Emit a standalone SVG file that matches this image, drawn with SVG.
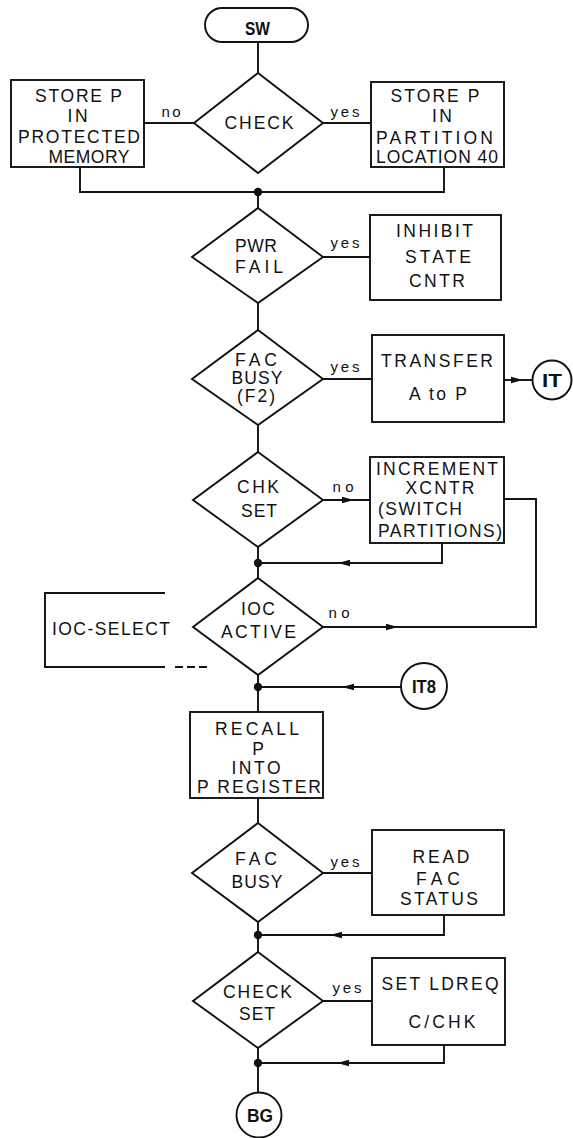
<svg xmlns="http://www.w3.org/2000/svg" width="573" height="1138" viewBox="0 0 573 1138">
<style>
.s{fill:none;stroke:#111;stroke-width:1.9}
.w{fill:#fff;stroke:#111;stroke-width:1.9}
.d{fill:#111}
text{font-family:"Liberation Sans",Arial,sans-serif;fill:#111;text-anchor:middle}
.t{font-size:17.5px}
.l{font-size:15px}
.b{font-size:19px;font-weight:bold}
</style>
<defs>
<marker id="ah" markerWidth="12" markerHeight="8" refX="6" refY="4" orient="auto" markerUnits="userSpaceOnUse">
<path d="M0,0.8 L12,4 L0,7.2 Z" fill="#111"/>
</marker>
</defs>
<rect width="573" height="1138" fill="#fff"/>

<g id="connectors">
<path class="s" d="M258,42 V73"/>
<path class="s" d="M144,123 H194"/>
<path class="s" d="M323,123 H371"/>
<path class="s" d="M80,167 V192 H444 V167"/>
<path class="s" d="M258,192 V208"/>
<path class="s" d="M323,257 H370"/>
<path class="s" d="M258,303 V330"/>
<path class="s" d="M323,379 H372"/>
<path class="s" d="M504,380 L517,380 L533,380" marker-mid="url(#ah)"/>
<path class="s" d="M258,425 V452"/>
<path class="s" d="M323,500 L348,500 L370,500" marker-mid="url(#ah)"/>
<path class="s" d="M442,543 V563 H400"/>
<path class="s" d="M400,563 L344,563 L258,563" marker-mid="url(#ah)"/>
<path class="s" d="M258,547 V578"/>
<path class="s" d="M323,627 L392,627 L450,627" marker-mid="url(#ah)"/>
<path class="s" d="M450,627 H536 V499 H504"/>
<path class="s" d="M258,675 V712"/>
<path class="s" d="M401,687 L348,687 L258,687" marker-mid="url(#ah)"/>
<path class="s" d="M258,798 V823"/>
<path class="s" d="M323,873 H372"/>
<path class="s" d="M444,915 V935 H400"/>
<path class="s" d="M400,935 L336,935 L258,935" marker-mid="url(#ah)"/>
<path class="s" d="M258,922 V952"/>
<path class="s" d="M323,1001 H372"/>
<path class="s" d="M444,1045 V1063 H400"/>
<path class="s" d="M400,1063 L343,1063 L258,1063" marker-mid="url(#ah)"/>
<path class="s" d="M258,1048 V1092"/>
<circle class="d" cx="258" cy="192" r="4.2"/>
<circle class="d" cx="258" cy="563" r="4.2"/>
<circle class="d" cx="258" cy="687" r="4.2"/>
<circle class="d" cx="258" cy="935" r="4.2"/>
<circle class="d" cx="258" cy="1063" r="4.2"/>
<text class="l" x="171" y="117" textLength="19">no</text>
<text class="l" x="345" y="117" textLength="29">yes</text>
<text class="l" x="345" y="248" textLength="29">yes</text>
<text class="l" x="345" y="372" textLength="29">yes</text>
<text class="l" x="343" y="492" textLength="21">no</text>
<text class="l" x="339" y="618" textLength="21">no</text>
<text class="l" x="345" y="867" textLength="29">yes</text>
<text class="l" x="347" y="993" textLength="29">yes</text>
</g>

<g id="sw">
<rect class="w" x="205" y="8" width="103" height="34" rx="17"/>
<text class="b" x="257.5" y="35" font-size="16" textLength="25" lengthAdjust="spacingAndGlyphs">SW</text>
</g>

<g id="check">
<path class="w" d="M258,73 L323,123 L258,173 L194,123 Z"/>
<text class="t" x="259" y="129" textLength="69">CHECK</text>
</g>

<g id="store-protected">
<rect class="w" x="11" y="80" width="133" height="87"/>
<text class="t" x="78.5" y="102" textLength="87">STORE P</text>
<text class="t" x="77.6" y="122" textLength="20">IN</text>
<text class="t" x="79" y="143" textLength="122">PROTECTED</text>
<text class="t" x="89" y="163" textLength="81">MEMORY</text>
</g>

<g id="store-partition">
<rect class="w" x="371" y="82" width="133" height="85"/>
<text class="t" x="435" y="102" textLength="89">STORE P</text>
<text class="t" x="442" y="122" textLength="20">IN</text>
<text class="t" x="434.5" y="144" textLength="117">PARTITION</text>
<text class="t" x="437" y="163" textLength="122">LOCATION 40</text>
</g>

<g id="pwr-fail">
<path class="w" d="M258,208 L323,257 L258,303 L192,257 Z"/>
<text class="t" x="256" y="252" textLength="42">PWR</text>
<text class="t" x="259" y="273" textLength="48">FAIL</text>
</g>

<g id="inhibit">
<rect class="w" x="370" y="215" width="131" height="85"/>
<text class="t" x="434.5" y="237" textLength="77">INHIBIT</text>
<text class="t" x="438" y="263" textLength="66">STATE</text>
<text class="t" x="437" y="287" textLength="56">CNTR</text>
</g>

<g id="fac-busy-f2">
<path class="w" d="M258,330 L323,379 L258,425 L192,379 Z"/>
<text class="t" x="256" y="366" textLength="42">FAC</text>
<text class="t" x="257" y="384" textLength="51">BUSY</text>
<text class="t" x="256" y="402" textLength="38">(F2)</text>
</g>

<g id="transfer">
<rect class="w" x="372" y="335" width="132" height="87"/>
<text class="t" x="437" y="367" textLength="112">TRANSFER</text>
<text class="t" x="438" y="400" textLength="58">A to P</text>
</g>

<g id="it">
<circle class="w" cx="552" cy="380" r="19.5"/>
<text class="b" x="552" y="387" textLength="20" lengthAdjust="spacingAndGlyphs">IT</text>
</g>

<g id="chk-set">
<path class="w" d="M258,452 L323,500 L258,547 L193,500 Z"/>
<text class="t" x="258" y="493" textLength="42">CHK</text>
<text class="t" x="259" y="517" textLength="36">SET</text>
</g>

<g id="increment">
<rect class="w" x="370" y="457" width="134" height="86"/>
<text class="t" x="437" y="475" textLength="122">INCREMENT</text>
<text class="t" x="440" y="494" textLength="69">XCNTR</text>
<text class="t" x="420" y="515" textLength="84">(SWITCH</text>
<text class="t" x="440" y="537" textLength="124">PARTITIONS)</text>
</g>

<g id="ioc-active">
<path class="w" d="M258,578 L323,627 L258,675 L193,627 Z"/>
<text class="t" x="258" y="615" textLength="34">IOC</text>
<text class="t" x="258.5" y="638" textLength="75">ACTIVE</text>
</g>

<g id="ioc-select">
<path class="s" d="M165,593 H45 V667 H165"/>
<path class="s" d="M175,667 H208" stroke-dasharray="8,4"/>
<text class="t" x="111" y="635" textLength="118">IOC-SELECT</text>
</g>

<g id="it8">
<circle class="w" cx="424" cy="686" r="23"/>
<text class="b" x="424" y="693" textLength="24" lengthAdjust="spacingAndGlyphs">IT8</text>
</g>

<g id="recall">
<rect class="w" x="190" y="712" width="133" height="86"/>
<text class="t" x="257" y="735" textLength="84">RECALL</text>
<text class="t" x="258" y="755" textLength="13">P</text>
<text class="t" x="256" y="774" textLength="49">INTO</text>
<text class="t" x="259" y="793" textLength="124">P REGISTER</text>
</g>

<g id="fac-busy">
<path class="w" d="M258,823 L323,873 L258,922 L192,873 Z"/>
<text class="t" x="256" y="865" textLength="42">FAC</text>
<text class="t" x="257" y="888" textLength="51">BUSY</text>
</g>

<g id="read-fac">
<rect class="w" x="372" y="830" width="132" height="85"/>
<text class="t" x="441" y="863" textLength="57">READ</text>
<text class="t" x="438" y="885" textLength="44">FAC</text>
<text class="t" x="439" y="905" textLength="78">STATUS</text>
</g>

<g id="check-set">
<path class="w" d="M258,952 L323,1001 L258,1048 L193,1001 Z"/>
<text class="t" x="257.5" y="998" textLength="69">CHECK</text>
<text class="t" x="257" y="1020" textLength="36">SET</text>
</g>

<g id="set-ldreq">
<rect class="w" x="372" y="958" width="133" height="87"/>
<text class="t" x="440" y="990" textLength="117">SET LDREQ</text>
<text class="t" x="442" y="1028" textLength="67">C/CHK</text>
</g>

<g id="bg">
<circle class="w" cx="259" cy="1115" r="22.5"/>
<text class="b" x="260" y="1122" textLength="26" lengthAdjust="spacingAndGlyphs">BG</text>
</g>
</svg>
